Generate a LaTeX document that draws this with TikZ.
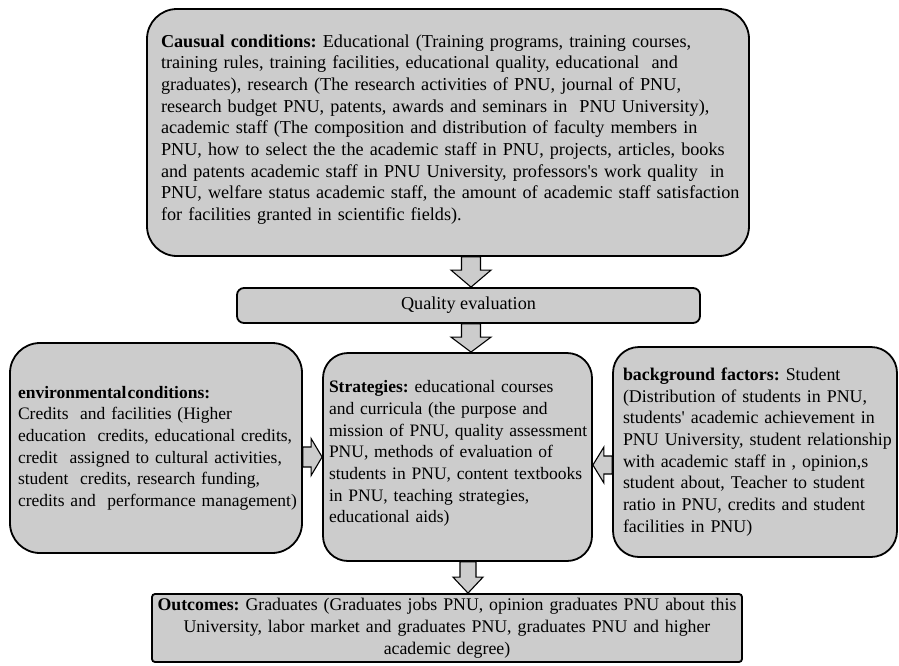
\documentclass[tikz,border=0pt]{standalone}
\usepackage{fontspec}
\setmainfont{Liberation Serif}
\usetikzlibrary{calc,backgrounds}
\definecolor{boxgray}{RGB}{204,204,204}
\newcommand\blockarrow[5]{%
  \draw[arrowsty] let \p1=(#1), \p2=(#2),
    \n1={veclen(\x2-\x1,\y2-\y1)},
    \n2={(\x2-\x1)/\n1}, \n3={(\y2-\y1)/\n1} in
    ({\x1-(#3)*(\n3)},{\y1+(#3)*(\n2)}) --
    ({\x2-(#5)*(\n2)-(#3)*(\n3)},{\y2-(#5)*(\n3)+(#3)*(\n2)}) --
    ({\x2-(#5)*(\n2)-(#4)*(\n3)},{\y2-(#5)*(\n3)+(#4)*(\n2)}) --
    (\x2,\y2) --
    ({\x2-(#5)*(\n2)+(#4)*(\n3)},{\y2-(#5)*(\n3)-(#4)*(\n2)}) --
    ({\x2-(#5)*(\n2)+(#3)*(\n3)},{\y2-(#5)*(\n3)-(#3)*(\n2)}) --
    ({\x1+(#3)*(\n3)},{\y1-(#3)*(\n2)}) -- cycle;}
\begin{document}
\frenchspacing
\begin{tikzpicture}[x=1pt,y=-1pt,
  box/.style={draw=black, line width=1.8pt, fill=boxgray, inner ysep=0pt,
    font=\fontsize{18.2}{21.7}\selectfont\frenchspacing, align=left},
  arrowsty/.style={draw=black, line width=1.1pt, fill=boxgray, line join=miter}]
\useasboundingbox (0,0) rectangle (899,665);

\node[box, rounded corners=30pt, minimum width=602pt, minimum height=247pt,
  inner xsep=14pt, text width=574pt] (top) at (448,132.5) {\begin{tabular}{@{}l@{}}
\textbf{Causual conditions:} Educational (Training programs, training courses,\\
training rules, training facilities, educational quality, educational\ \ and\\
graduates), research (The research activities of PNU, journal of PNU,\\
research budget PNU, patents, awards and seminars in\ \ PNU University),\\
academic staff (The composition and distribution of faculty members in\\
PNU, how to select the the academic staff in PNU, projects, articles, books\\
and patents academic staff in PNU University, professors\textquotesingle s work quality\ \ in\\
PNU, welfare status academic staff, the amount of academic staff satisfaction\\
for facilities granted in scientific fields).\\[6pt]
\end{tabular}};

\node[box, rounded corners=7pt, minimum width=463pt, minimum height=35pt, align=center]
  (qual) at (468.5,305.5) {Quality evaluation};

\node[box, rounded corners=30pt, minimum width=292pt, minimum height=210pt,
  inner xsep=8pt, text width=276pt, font=\fontsize{17.5}{21.7}\selectfont\frenchspacing]
  (left) at (156,448) {\begin{tabular}{@{}l@{}}
\textbf{environmental\hspace{1pt}conditions:}\\
Credits\ \ and facilities (Higher\\
education\ \ credits, educational credits,\\
credit\ \ assigned to cultural activities,\\
student\ \ credits, research funding,\\
credits and\ \ performance management)
\end{tabular}};

\node[box, rounded corners=25pt, minimum width=269pt, minimum height=208pt,
  inner xsep=6pt, text width=257pt, font=\fontsize{17.5}{21.7}\selectfont\frenchspacing]
  (center) at (457.5,457) {\begin{tabular}{@{}l@{}}
\textbf{Strategies:} educational courses\\
and curricula (the purpose and\\
mission of PNU, quality assessment\\
PNU, methods of evaluation of\\
students in PNU, content textbooks\\
in PNU, teaching strategies,\\
educational aids)\\[7pt]
\end{tabular}};

\node[box, rounded corners=26pt, minimum width=284pt, minimum height=210pt,
  inner xsep=10pt, text width=264pt, font=\fontsize{17.9}{21.7}\selectfont\frenchspacing]
  (right) at (755,452) {\begin{tabular}{@{}l@{}}
\textbf{background factors:} Student\\
(Distribution of students in PNU,\\
students\textquotesingle\ academic achievement in\\
PNU University, student relationship\\
with academic staff in , opinion,s\\
student about, Teacher to student\\
ratio in PNU, credits and student\\
facilities in PNU)
\end{tabular}};

\node[box, rounded corners=3pt, minimum width=590pt, minimum height=68pt,
  inner xsep=5pt, text width=580pt, align=center, font=\fontsize{17.8}{21.7}\selectfont\frenchspacing]
  (out) at (447,628) {\begin{tabular}{@{}c@{}}
\textbf{Outcomes:} Graduates (Graduates jobs PNU, opinion graduates PNU about this\\
University, labor market and graduates PNU, graduates PNU and higher\\
academic degree)
\end{tabular}};

\coordinate (axv) at (471,0);
\coordinate (axb) at (468,0);
\coordinate (ahl) at (0,457);
\coordinate (ahr) at (0,465);

\begin{scope}[on background layer]
\blockarrow{top.south -| axv}{qual.north -| axv}{9.5}{20}{17}
\blockarrow{qual.south -| axv}{center.north -| axv}{9.5}{20}{15}
\blockarrow{left.east |- ahl}{center.west |- ahl}{10}{18.5}{11}
\blockarrow{right.west |- ahr}{center.east |- ahr}{9}{18}{11}
\blockarrow{center.south -| axb}{out.north -| axb}{8}{15}{16}
\end{scope}
\end{tikzpicture}
\end{document}
